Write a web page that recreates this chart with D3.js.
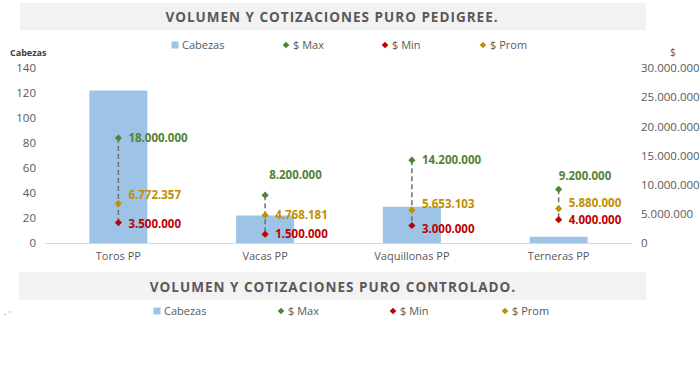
<!DOCTYPE html>
<html><head><meta charset="utf-8">
<script src="https://cdn.jsdelivr.net/npm/d3@7"></script>
<style>body{margin:0;background:#fff}svg{display:block}</style>
</head><body>
<script>
const categories = ["Toros PP", "Vacas PP", "Vaquillonas PP", "Terneras PP"];
const cabezas = [122, 22, 29, 5];
const maxPrice = [18000000, 8200000, 14200000, 9200000];
const minPrice = [3500000, 1500000, 3000000, 4000000];
const promPrice = [6772357, 4768181, 5653103, 5880000];
const leftTicks = [0, 20, 40, 60, 80, 100, 120, 140];
const rightTicks = [0, 5000000, 10000000, 15000000, 20000000, 25000000, 30000000];
const legendItems = ["Cabezas", "$ Max", "$ Min", "$ Prom"];
const title1 = "VOLUMEN Y COTIZACIONES PURO PEDIGREE.";
const title2 = "VOLUMEN Y COTIZACIONES PURO CONTROLADO.";

// label layout offsets (presentation only)
const maxLabelPos = [[10,0],[4,-20],[10,0],[0,-13]];
const promLabelPos = [[10,-8],[10,0],[10,-6],[10,-6]];
const minLabelPos = [[10,1],[10,0],[10,3],[10,0]];

const W = 700, H = 381;
const svg = d3.select("body").append("svg").attr("width", W).attr("height", H);
const fmt = v => d3.format(",")(v).replace(/,/g, ".");
const colors = {cab:"#9dc3e6", max:"#548235", min:"#c00000", prom:"#bf9000"};
const font = "'Open Sans', 'Liberation Sans', sans-serif";
const diamond = d3.symbol(d3.symbolSquare, 26)();

// title 1
svg.append("rect").attr("x",20).attr("y",3).attr("width",626).attr("height",27).attr("fill","#f2f2f2");
svg.append("text").attr("x",332).attr("y",22).attr("text-anchor","middle")
  .attr("font-family",font).attr("font-weight","bold").attr("font-size",13.5)
  .attr("letter-spacing",1.0).attr("fill","#595959").text(title1);

const x = d3.scaleBand().domain(categories).range([45, 632]).paddingInner(0.6).paddingOuter(0.3);
const xc = d => x(d) + x.bandwidth()/2;
const yL = d3.scaleLinear().domain([0,140]).range([243, 68]);
const yR = d3.scaleLinear().domain([0,30000000]).range([243, 68]);

// legend
function legend(y, xs, fs) {
  const g = svg.append("g");
  legendItems.forEach((name,i) => {
    const gx = xs[i];
    const c = [colors.cab, colors.max, colors.min, colors.prom][i];
    if (i === 0) g.append("rect").attr("x",gx-3.5).attr("y",y-3.5).attr("width",7).attr("height",7).attr("fill",c);
    else g.append("path").attr("d", d3.symbol(d3.symbolSquare, 22)()).attr("transform",`translate(${gx},${y}) rotate(45)`).attr("fill",c);
    g.append("text").attr("x",gx+7).attr("y",y+4).attr("font-family",font).attr("font-size",fs)
      .attr("fill","#595959").text(name);
  });
}
legend(45, [175, 286, 385, 483], 11);

// axis titles
svg.append("text").attr("x",10).attr("y",56).attr("font-family",font).attr("font-size",9).attr("font-weight","bold").attr("fill","#404040").text("Cabezas");
svg.append("text").attr("x",670).attr("y",56).attr("font-family",font).attr("font-size",10).attr("fill","#595959").text("$");

// left axis
const la = svg.append("g").attr("transform","translate(38,0)")
  .call(d3.axisLeft(yL).tickValues(leftTicks).tickSize(0).tickPadding(2));
la.select(".domain").remove();
la.selectAll("text").attr("font-family",font).attr("font-size",11.5).attr("fill","#595959");

// right axis
const ra = svg.append("g").attr("transform","translate(641,0)")
  .call(d3.axisRight(yR).tickValues(rightTicks).tickSize(0).tickPadding(0).tickFormat(fmt));
ra.select(".domain").remove();
ra.selectAll("text").attr("font-family",font).attr("font-size",11.5).attr("fill","#595959");

// bars
svg.selectAll("rect.bar").data(categories).enter().append("rect").attr("class","bar")
  .attr("x", d => xc(d) - 29).attr("width", 58)
  .attr("y", (d,i) => yL(cabezas[i])).attr("height", (d,i) => yL(0) - yL(cabezas[i]))
  .attr("fill", colors.cab);

// baseline
svg.append("line").attr("x1",45).attr("x2",632).attr("y1",243.5).attr("y2",243.5).attr("stroke","#d9d9d9");

// x axis labels
const xa = svg.append("g").attr("transform","translate(0,243)")
  .call(d3.axisBottom(x).tickSize(0).tickPadding(9));
xa.select(".domain").remove();
xa.selectAll("text").attr("font-family",font).attr("font-size",11).attr("fill","#595959");

// drop lines
svg.selectAll("line.hl").data(categories).enter().append("line")
  .attr("x1", xc).attr("x2", xc)
  .attr("y1", (d,i) => yR(maxPrice[i])).attr("y2", (d,i) => yR(minPrice[i]))
  .attr("stroke","#6f6f6f").attr("stroke-width",1.5).attr("stroke-dasharray","5,3");

function series(vals, color, pos) {
  svg.append("g").selectAll("path").data(categories).enter().append("path")
    .attr("d", diamond)
    .attr("transform", (d,i) => `translate(${xc(d)},${yR(vals[i])}) rotate(45)`).attr("fill", color);
  svg.append("g").selectAll("text").data(categories).enter().append("text")
    .attr("x", (d,i) => xc(d) + pos[i][0]).attr("y", (d,i) => yR(vals[i]) + pos[i][1] + 4)
    .attr("font-family",font).attr("font-weight","bold").attr("font-size",11.5).attr("fill",color)
    .text((d,i) => fmt(vals[i]));
}
series(maxPrice, colors.max, maxLabelPos);
series(promPrice, colors.prom, promLabelPos);
series(minPrice, colors.min, minLabelPos);

// title 2
svg.append("rect").attr("x",19).attr("y",272).attr("width",627).attr("height",28).attr("fill","#f2f2f2");
svg.append("text").attr("x",333).attr("y",292).attr("text-anchor","middle")
  .attr("font-family",font).attr("font-weight","bold").attr("font-size",13.5)
  .attr("letter-spacing",1.0).attr("fill","#595959").text(title2);
legend(311, [157, 281, 393, 505], 11);
svg.append("text").attr("x",4).attr("y",316).attr("font-family",font).attr("font-size",8).attr("fill","#7f7f7f").text("- '");
</script>
</body></html>
